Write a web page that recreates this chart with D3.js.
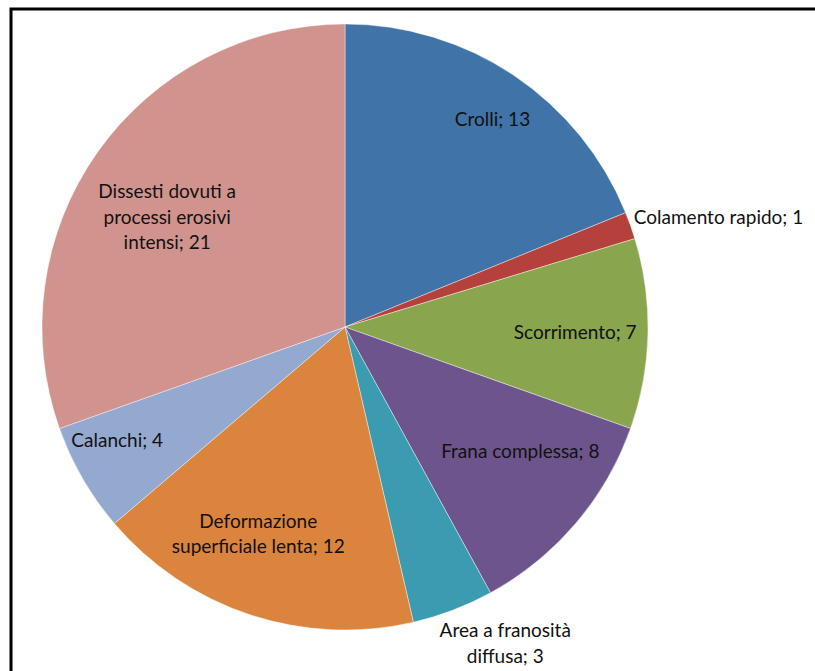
<!DOCTYPE html>
<html lang="it">
<head>
<meta charset="UTF-8"/>
<title>Tipologie di dissesto</title>
<style>
    body { margin: 0; background: #fff; }
    svg { display: block; }
    text {
        font-family: Lato, "Open Sans", sans-serif;
        font-size: 19px;
        fill: #111;
    }
</style>
</head>
<body>
<svg width="815" height="671"></svg>
<script src="https://d3js.org/d3.v7.min.js"></script>
<script>
    const categories = ["Crolli", "Colamento rapido", "Scorrimento", "Frana complessa",
        "Area a franosità diffusa", "Deformazione superficiale lenta", "Calanchi",
        "Dissesti dovuti a processi erosivi intensi"];
    const values = [13, 1, 7, 8, 3, 12, 4, 21];
    const labelLines = [
        ["Crolli; 13"],
        ["Colamento rapido; 1"],
        ["Scorrimento; 7"],
        ["Frana complessa; 8"],
        ["Area a franosità", "diffusa; 3"],
        ["Deformazione", "superficiale lenta; 12"],
        ["Calanchi; 4"],
        ["Dissesti dovuti a", "processi erosivi", "intensi; 21"]
    ];
    const colors = ["#4073a7", "#b5413d", "#89a54e", "#6e548d", "#3a9bb1", "#db843d", "#93a9cf", "#d1938e"];

    // label placement: radius as a fraction of the pie radius, angle shift in degrees, anchor
    const labelPlace = [
        [0.84, 1.5, "middle"],
        [1.02, -1.3, "start"],
        [0.76, 0, "middle"],
        [0.71, -5, "middle"],
        [1.17, -6, "middle"],
        [0.74, 4.5, "middle"],
        [0.84, 3.5, "middle"],
        [0.69, -3.5, "middle"]
    ];

    const svg = d3.select("svg");
    const cx = 345, cy = 327, r = 303;

    svg.append("rect")
        .attr("x", 11).attr("y", 9)
        .attr("width", 900).attr("height", 800)
        .attr("fill", "none")
        .attr("stroke", "#000")
        .attr("stroke-width", 3);

    const pie = d3.pie().sort(null).value(d => d);
    const arcs = pie(values);
    const arc = d3.arc().innerRadius(0).outerRadius(r);

    const g = svg.append("g").attr("transform", `translate(${cx},${cy})`);

    g.selectAll("path")
        .data(arcs)
        .enter()
        .append("path")
        .attr("d", arc)
        .attr("fill", (d, i) => colors[i])
        .attr("stroke", "#fff")
        .attr("stroke-opacity", 0.5)
        .attr("stroke-width", 0.8);

    const lineH = 25.5;
    const labels = g.selectAll("text.lbl")
        .data(arcs)
        .enter()
        .append("text")
        .attr("class", "lbl")
        .attr("text-anchor", (d, i) => labelPlace[i][2])
        .attr("transform", (d, i) => {
            const [f, shift] = labelPlace[i];
            const a = (d.startAngle + d.endAngle) / 2 + shift * Math.PI / 180;
            const x = Math.sin(a) * r * f;
            const y = -Math.cos(a) * r * f;
            return `translate(${x},${y})`;
        });

    labels.each(function (d, i) {
        const lines = labelLines[i];
        const t = d3.select(this);
        lines.forEach((s, k) => {
            t.append("tspan")
                .attr("x", 0)
                .attr("y", (k - (lines.length - 1) / 2) * lineH)
                .attr("dy", "0.35em")
                .text(s);
        });
    });
</script>
</body>
</html>
